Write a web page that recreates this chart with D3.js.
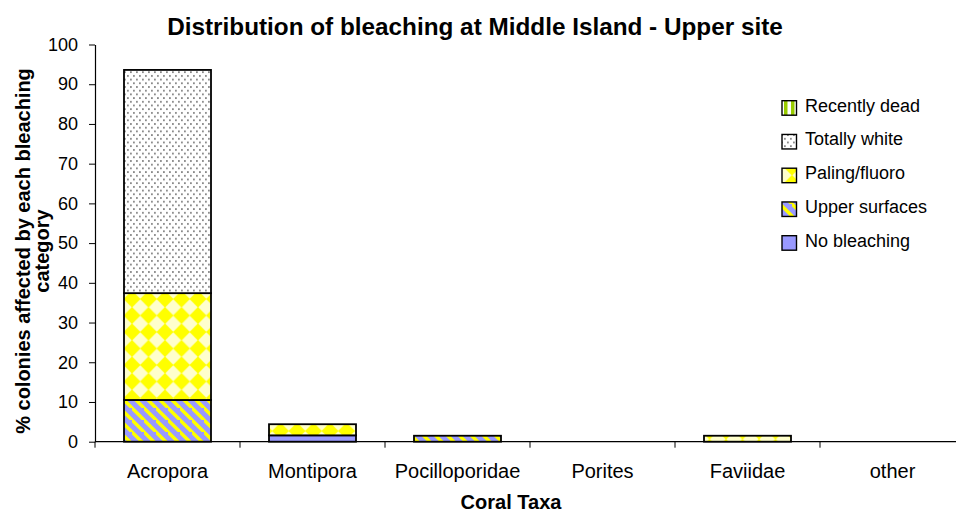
<!DOCTYPE html>
<html><head><meta charset="utf-8">
<script src="https://cdn.jsdelivr.net/npm/d3@7"></script>
<style>body{margin:0;background:#fff}svg{display:block}text{font-family:"Liberation Sans",Arial,sans-serif;fill:#000}</style>
</head><body><svg id="c" width="956" height="515"></svg>
<script>
const categories = ["Acropora","Montipora","Pocilloporidae","Porites","Faviidae","other"];
const seriesNames = ["No bleaching","Upper surfaces","Paling/fluoro","Totally white","Recently dead"];
const noBleaching   = [0,   1.6, 0,   0, 0,   0];
const upperSurfaces = [10.5,0,   1.5, 0, 0,   0];
const palingFluoro  = [26.9,2.8, 0,   0, 1.5, 0];
const totallyWhite  = [56.2,0,   0,   0, 0,   0];
const recentlyDead  = [0,   0,   0,   0, 0,   0];
const yTicks = [0,10,20,30,40,50,60,70,80,90,100];

const svg = d3.select("#c");
const defs = svg.append("defs");
// patterns
let p = defs.append("pattern").attr("id","pNo").attr("patternUnits","userSpaceOnUse").attr("width",8).attr("height",8);
p.append("rect").attr("width",8).attr("height",8).attr("fill","#9999ff");
p = defs.append("pattern").attr("id","pUp").attr("patternUnits","userSpaceOnUse").attr("width",12).attr("height",12);
p.append("rect").attr("width",12).attr("height",12).attr("fill","#9999ff");
p.append("path").attr("d","M-3,-3 L15,15 M-9,3 L3,15 M9,-9 L21,3").attr("stroke","#ffff00").attr("stroke-width",3.4);
p = defs.append("pattern").attr("id","pPal").attr("patternUnits","userSpaceOnUse").attr("width",16.5).attr("height",16.5).attr("y",2);
p.append("rect").attr("width",16.5).attr("height",16.5).attr("fill","#ffff00");
p.append("path").attr("d","M8.25,0.3 L16.2,8.25 L8.25,16.2 L0.3,8.25 Z").attr("fill","#ffffcc");
p = defs.append("pattern").attr("id","pWh").attr("patternUnits","userSpaceOnUse").attr("width",6).attr("height",7.4);
p.append("rect").attr("width",6).attr("height",7.4).attr("fill","#ffffff");
p.append("rect").attr("x",1).attr("y",1).attr("width",1.8).attr("height",1.8).attr("fill","#888");
p.append("rect").attr("x",4).attr("y",4.7).attr("width",1.8).attr("height",1.8).attr("fill","#888");
p = defs.append("pattern").attr("id","pDead").attr("patternUnits","userSpaceOnUse").attr("width",7).attr("height",7);
p.append("rect").attr("width",7).attr("height",7).attr("fill","#ffffff");
p.append("rect").attr("x",0).attr("width",3.5).attr("height",7).attr("fill","#99cc00");
const fills = ["url(#pNo)","url(#pUp)","url(#pPal)","url(#pWh)","url(#pDead)"];

const x = d3.scaleBand().domain(categories).range([95,965]).paddingInner(0.4).paddingOuter(0.2);
const y = d3.scaleLinear().domain([0,100]).range([441.7,44.5]);

const data = categories.map((c,i)=>({cat:c, No:noBleaching[i], Up:upperSurfaces[i], Pal:palingFluoro[i], Wh:totallyWhite[i], Dead:recentlyDead[i]}));
const keys = ["No","Up","Pal","Wh","Dead"];
const stack = d3.stack().keys(keys)(data);

// bars
stack.forEach((layer,li)=>{
  svg.append("g").selectAll("rect").data(layer.filter(d=>d[1]-d[0]>0)).join("rect")
    .attr("x",d=>x(d.data.cat)).attr("width",x.bandwidth())
    .attr("y",d=>y(d[1])).attr("height",d=>y(d[0])-y(d[1]))
    .attr("fill",fills[li]).attr("stroke","#000").attr("stroke-width",1.8);
});

// axes
const yAxis = svg.append("g").attr("transform","translate(95,0)")
  .call(d3.axisLeft(y).tickValues(yTicks).tickSize(6).tickSizeOuter(0).tickPadding(11));
yAxis.select(".domain").attr("stroke","#000").attr("stroke-width",1.2);
yAxis.selectAll(".tick line").attr("stroke","#000");
yAxis.selectAll("text").attr("font-size",18).style("font-family","Liberation Sans, Arial");
const xAxis = svg.append("g").attr("transform","translate(0,441.7)");
xAxis.append("line").attr("x1",95).attr("x2",956).attr("stroke","#000").attr("stroke-width",1.2);
xAxis.selectAll("line.t").data(categories).join("line").attr("class","t")
  .attr("x1",d=>x(d)-x.step()*0.2).attr("x2",d=>x(d)-x.step()*0.2).attr("y1",0).attr("y2",6).attr("stroke","#000");
xAxis.selectAll("text").data(categories).join("text")
  .attr("x",d=>x(d)+x.bandwidth()/2).attr("y",36.5).attr("text-anchor","middle").attr("font-size",20).text(d=>d);

// titles
svg.append("text").attr("x",475).attr("y",35).attr("text-anchor","middle").attr("font-size",24.3).attr("font-weight","bold").text("Distribution of bleaching at Middle Island - Upper site");
svg.append("text").attr("x",511).attr("y",509).attr("text-anchor","middle").attr("font-size",20).attr("font-weight","bold").text("Coral Taxa");
const yt = svg.append("text").attr("transform","translate(30,251) rotate(-90)").attr("text-anchor","middle").attr("font-size",20).attr("font-weight","bold");
yt.append("tspan").attr("x",0).attr("dy",0).text("% colonies affected by each bleaching");
yt.append("tspan").attr("x",0).attr("dy",19).text("category");

// legend
const legendOrder = [4,3,2,1,0];
const lg = svg.append("g");
legendOrder.forEach((si,k)=>{
  const base = 111.7 + k*33.75;
  lg.append("rect").attr("x",782).attr("y",base-11).attr("width",14.5).attr("height",14.5).attr("fill",fills[si]).attr("stroke","#000").attr("stroke-width",1.4);
  lg.append("text").attr("x",805).attr("y",base).attr("font-size",18).text(seriesNames[si]);
});
</script></body></html>
